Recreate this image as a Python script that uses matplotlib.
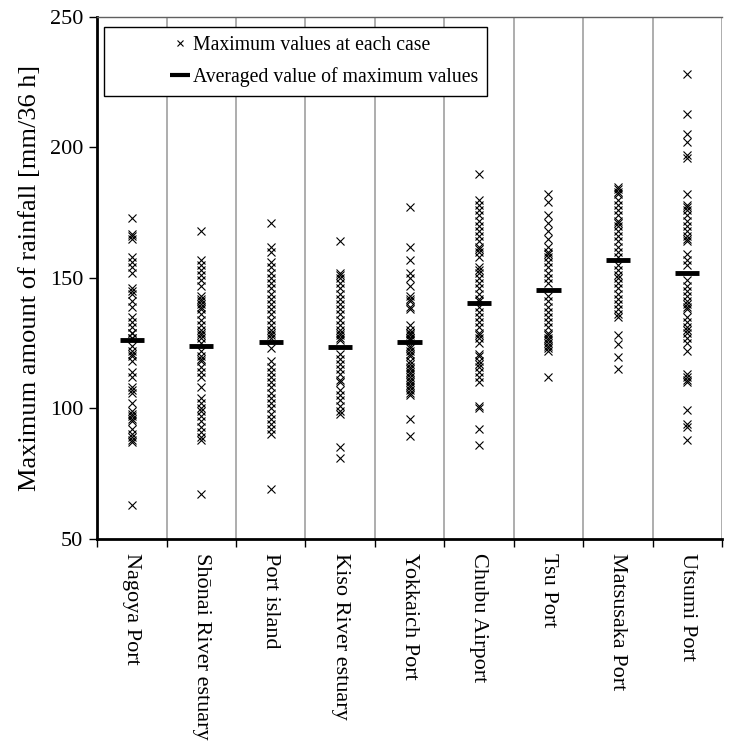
import matplotlib.pyplot as plt
from matplotlib.lines import Line2D
from matplotlib.patches import Rectangle

plt.rcParams['font.family'] = ['Liberation Serif', 'DejaVu Serif']

# Station names on the x axis
stations = ['Nagoya Port', 'Shōnai River estuary', 'Port island', 'Kiso River estuary',
            'Yokkaich Port', 'Chubu Airport', 'Tsu Port', 'Matsusaka Port', 'Utsumi Port']

# Maximum rainfall of each case [mm/36 h]
nagoya = [173, 167, 166, 165, 158, 156, 154, 152, 146, 145, 144, 141, 139, 135, 133, 131,
          129, 127, 129, 127, 124, 122, 121, 120, 118, 114, 112, 108, 107, 106, 102,
          99, 98, 97, 96, 95, 92, 90, 89, 88, 87, 63]
shonai = [168, 157, 155, 153, 151, 149, 147, 143, 142, 141, 140, 139, 138, 136, 134,
          132, 130, 128, 129, 127, 125, 122, 120, 119, 118, 116, 114, 112, 108,
          104, 102, 100, 99, 97, 95, 93, 91, 89, 88, 67]
port_island = [171, 162, 160, 156, 154, 152, 150, 148, 146, 144, 142, 140, 138, 136,
               134, 132, 130, 128, 129, 127, 123, 118, 116, 114, 112, 110, 108, 106,
               104, 102, 100, 98, 96, 94, 92, 90, 69]
kiso = [164, 152, 151, 150, 148, 146, 144, 142, 140, 138, 136, 134, 132, 130, 128, 126,
        129, 127, 121, 119, 117, 115, 113, 111, 110, 107, 105, 103, 101, 99, 98, 85, 81]
yokkaich = [177, 162, 157, 152, 150, 147, 143, 142, 141, 139, 138, 132, 130, 129, 128,
            127, 129, 127, 126, 124, 123, 122, 121, 120, 118, 117, 116, 115, 114, 113,
            112, 111, 110, 109, 108, 107, 106, 105, 96, 89.5]
chubu = [190, 180, 178, 176, 174, 172, 170, 168, 166, 164, 162, 161, 160, 158, 154, 153,
         152, 150, 148, 146, 144, 142, 141, 139, 137, 135, 133, 131, 129, 127, 125, 128,
         121, 120, 118, 117, 116, 114, 112, 110, 101, 100, 92, 86]
tsu = [182, 179, 174, 171, 168, 165, 162, 160, 159, 158, 156, 154, 152, 150, 148, 143,
       141, 139, 137, 135, 133, 131, 129, 127, 125, 128, 126, 124, 123, 122, 112]
matsusaka = [185, 184, 183, 182, 180, 178, 176, 174, 172, 171, 170, 168, 166, 164, 162,
             160, 158, 155, 153, 151, 150, 148, 146, 144, 142, 140, 138, 136, 135,
             128, 124.5, 119.5, 115]
utsumi = [228, 213, 205, 202, 197, 196, 182, 178, 177, 176, 174, 172, 170, 168, 166, 165,
          164, 159, 157, 155, 149, 147, 145, 143, 141, 140, 139, 138, 135, 133, 131, 130,
          129, 127, 125, 122, 113, 112, 111, 110, 99.5, 94, 93, 88]

cases = [nagoya, shonai, port_island, kiso, yokkaich, chubu, tsu, matsusaka, utsumi]

# Averaged value of the maxima (black bars)
averages = [126, 124, 125.5, 123.5, 125.5, 140.5, 145.5, 157, 152]

fig = plt.figure(figsize=(7.30, 7.42), dpi=100)
ax = fig.add_axes([0.133, 0.274, 0.856, 0.703])

for i, vals in enumerate(cases):
    ax.plot([i] * len(vals), vals, linestyle='none', marker='x', color='black',
            markersize=6, markeredgewidth=0.8, zorder=3)

xs = list(range(len(stations)))
ax.hlines(averages, [x - 0.175 for x in xs], [x + 0.175 for x in xs],
          color='black', linewidth=3.5, zorder=4)

ax.set_xlim(-0.5, len(stations) - 0.5)
ax.set_ylim(50, 250)
ax.set_yticks([50, 100, 150, 200, 250])

# boundaries as major ticks (with grid), names as minor ticks
ax.set_xticks([x - 0.5 for x in range(len(stations) + 1)])
ax.set_xticklabels([])
ax.set_xticks(xs, minor=True)
ax.set_xticklabels(stations, minor=True, rotation=-90, fontsize=16, va='top')
ax.tick_params(axis='x', which='minor', length=0, pad=10)
ax.tick_params(axis='x', which='major', direction='out', length=6, width=1)
ax.tick_params(axis='y', direction='out', length=6, width=1, labelsize=16, pad=4)
ax.xaxis.grid(True, which='major', color='#a0a0a0', linewidth=1.2)

ax.spines['left'].set_linewidth(2)
ax.spines['bottom'].set_linewidth(2)
ax.spines['top'].set_color('#606060')
ax.spines['top'].set_linewidth(1)
ax.spines['right'].set_visible(False)

ax.set_ylabel('Maximum amount of rainfall [mm/36 h]', fontsize=19, labelpad=6)

# legend box
ax.add_patch(Rectangle((0.011, 0.849), 0.613, 0.132, transform=ax.transAxes,
                       facecolor='white', edgecolor='black', linewidth=1, zorder=5))
handles = [Line2D([], [], linestyle='none', marker='x', color='black',
                  markersize=5, markeredgewidth=0.8),
           Line2D([], [], linestyle='none', marker='_', color='black',
                  markersize=14, markeredgewidth=3)]
leg = ax.legend(handles, ['Maximum values at each case', 'Averaged value of maximum values'],
                loc='center left', bbox_to_anchor=(0.108, 0.915), frameon=False,
                fontsize=14.2, handlelength=0.8, handletextpad=0.25, labelspacing=0.6,
                borderaxespad=0)
leg.set_zorder(6)

fig.savefig('out.png', dpi=100)
